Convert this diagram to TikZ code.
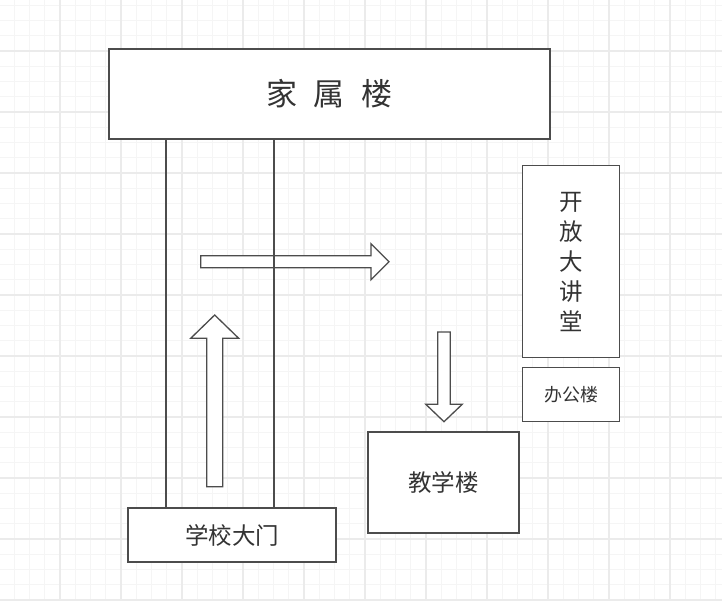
\documentclass[tikz,border=0pt]{standalone}
\usepackage{fontspec}
\newfontfamily\cjk{Noto Sans CJK SC}
\begin{document}
\begin{tikzpicture}[x=1pt,y=-1pt,
  box/.style={draw=black!70, line width=1.3pt, fill=white, inner sep=0pt, font=\cjk, text=black!80},
  blockarrow/.style={draw=black!70, line width=1.3pt, fill=white, line join=miter},
  link/.style={draw=black!70, line width=1.3pt},
  minorgrid/.style={draw=black!4, line width=0.9pt},
  majorgrid/.style={draw=black!8, line width=1.2pt}]
\useasboundingbox (0,0) rectangle (722,600);
\fill[white] (0,0) rectangle (722,600);
% grid
\foreach \i in {-4,...,44} {
  \draw[minorgrid] ({60+15.25*\i},0) -- ({60+15.25*\i},600);
}
\foreach \j in {-3,...,38} {
  \draw[minorgrid] (0,{51+15.25*\j}) -- (722,{51+15.25*\j});
}
\foreach \i in {-1,...,11} {
  \draw[majorgrid] ({60+61*\i},0) -- ({60+61*\i},600);
}
\foreach \j in {-1,...,10} {
  \draw[majorgrid] (0,{51+61*\j}) -- (722,{51+61*\j});
}
% boxes
\node[box, minimum width=441pt, minimum height=90pt, font=\cjk\fontsize{31pt}{36pt}\selectfont]
  (jsl) at (329.5,94) {家\hspace{17pt}属\hspace{17pt}楼};
\node[box, minimum width=208pt, minimum height=54pt, font=\cjk\fontsize{23.5pt}{28pt}\selectfont]
  (gate) at (232,535) {学校大门};
\node[box, minimum width=151pt, minimum height=101pt, font=\cjk\fontsize{23.5pt}{28pt}\selectfont]
  (jxl) at (443.4,482.4) {教学楼};
\node[box, minimum width=96.6pt, minimum height=54pt, font=\cjk\fontsize{18pt}{22pt}\selectfont]
  (bgl) at (571,394.7) {办公楼};
\node[box, minimum width=96.6pt, minimum height=192pt, align=center,
  font=\cjk\fontsize{23.5pt}{30.1pt}\selectfont]
  (kfd) at (571,261.7) {开\\放\\大\\讲\\堂};
% block arrows
\draw[blockarrow] (200.7,255.8) -- (371,255.8) -- (371,243.8) -- (389,261.8) -- (371,279.8)
  -- (371,267.8) -- (200.7,267.8) -- cycle;
\draw[blockarrow] (206.7,486.7) -- (206.7,338.3) -- (190.7,338.3) -- (214.7,315) -- (238.7,338.3)
  -- (222.7,338.3) -- (222.7,486.7) -- cycle;
\draw[blockarrow] (437.7,332) -- (450.3,332) -- (450.3,404.3) -- (462.2,404.3) -- (444,421.7)
  -- (425.8,404.3) -- (437.7,404.3) -- cycle;
% road lines
\coordinate (l1) at (166,0);
\coordinate (l2) at (274,0);
\draw[link] (l1 |- jsl.south) -- (l1 |- gate.north);
\draw[link] (l2 |- jsl.south) -- (l2 |- gate.north);
\end{tikzpicture}
\end{document}
